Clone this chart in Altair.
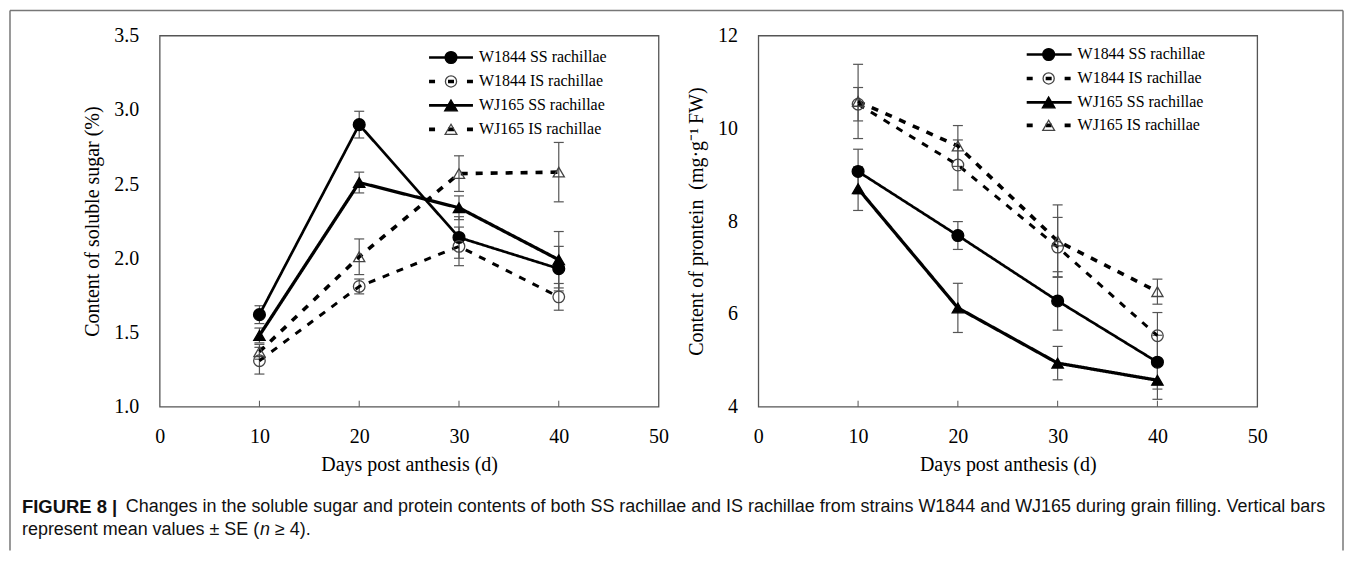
import altair as alt
import pandas as pd

# ---------------- data ----------------
days = [10, 20, 30, 40]
series_names = ["W1844 SS rachillae", "W1844 IS rachillae",
                "WJ165 SS rachillae", "WJ165 IS rachillae"]

sugar_w1844_ss = [1.62, 2.90, 2.14, 1.93]
sugar_w1844_ss_se = [0.06, 0.09, 0.14, 0.15]
sugar_w1844_is = [1.31, 1.81, 2.08, 1.74]
sugar_w1844_is_se = [0.09, 0.05, 0.13, 0.09]
sugar_wj165_ss = [1.48, 2.51, 2.34, 1.99]
sugar_wj165_ss_se = [0.05, 0.07, 0.08, 0.19]
sugar_wj165_is = [1.37, 2.01, 2.57, 2.58]
sugar_wj165_is_se = [0.05, 0.12, 0.12, 0.20]

protein_w1844_ss = [9.07, 7.69, 6.28, 4.96]
protein_w1844_ss_se = [0.48, 0.30, 0.63, 0.58]
protein_w1844_is = [10.52, 9.21, 7.44, 5.53]
protein_w1844_is_se = [0.36, 0.54, 0.64, 0.50]
protein_wj165_ss = [8.70, 6.13, 4.94, 4.57]
protein_wj165_ss_se = [0.47, 0.53, 0.36, 0.41]
protein_wj165_is = [10.58, 9.62, 7.57, 6.48]
protein_wj165_is_se = [0.80, 0.44, 0.78, 0.27]

x_ticks = [0, 10, 20, 30, 40, 50]
x_inner_ticks = [10, 20, 30, 40]
sugar_ticks = [1.0, 1.5, 2.0, 2.5, 3.0, 3.5]
protein_ticks = [4, 6, 8, 10, 12]

x_title = "Days post anthesis (d)"
sugar_title = "Content of soluble sugar (%)"
protein_title = "Content of prontein\u00a0\u00a0(mg\u00b7g\u207b\u00b9\u2009FW)"

caption_bold = "FIGURE 8 |"
caption_line1 = ("Changes in the soluble sugar and protein contents of both SS rachillae and IS "
                 "rachillae from strains W1844 and WJ165 during grain filling. Vertical bars")
caption_line2a = "represent mean values \u00b1 SE ("
caption_line2b = "n"
caption_line2c = "\u2265 4)."

# ---------------- style ----------------
SERIF = "Liberation Serif"
SANS = "Liberation Sans"
W, H = 500, 372
AXIS_GRAY = "#555555"
ERR_GRAY = "#555555"

shape_range = ["circle", "circle", "triangle-up", "triangle-up"]
fill_range = ["black", "transparent", "black", "transparent"]
stroke_range = ["black", "#444444", "black", "#444444"]
size_range = [140, 125, 160, 140]
dash_range = [[1, 0], [7, 8], [1, 0], [7, 8]]
width_range = [2.7, 3.6, 2.7, 3.6]
legend_dash = [None, [6, 13], None, [6, 13]]


def make_df(vals, ses):
    rows = []
    for name, v, s in zip(series_names, vals, ses):
        for d, vv, ss in zip(days, v, s):
            rows.append(dict(day=d, value=vv, lo=vv - ss, hi=vv + ss, series=name))
    return pd.DataFrame(rows)


def sc(rng):
    return alt.Scale(domain=series_names, range=rng)


def panel(df, ydomain, yticks, yfmt, ytitle, ytitle_x, leg_rows, extra=None):
    xs = alt.Scale(domain=[0, 50], nice=False, zero=False)
    xaxis = alt.Axis(values=x_ticks, format="d", title=x_title, ticks=False, domain=False,
                     grid=False, labelFlush=False, labelOverlap=False, labelPadding=30,
                     labelBaseline="middle", labelFontSize=20, labelFont=SERIF,
                     labelColor="black", titleFont=SERIF, titleFontSize=20,
                     titleFontWeight="normal", titleColor="black", titleY=58,
                     titleBaseline="middle")
    ys = alt.Scale(domain=ydomain, nice=False, zero=False)
    yaxis = alt.Axis(values=yticks, format=yfmt, title=ytitle, ticks=False, domain=False,
                     grid=False, labelFlush=False, labelOverlap=False, labelPadding=21,
                     labelFontSize=20, labelFont=SERIF, labelColor="black",
                     titleFont=SERIF, titleFontSize=20, titleFontWeight="normal",
                     titleColor="black", titleX=ytitle_x, titleY=H / 2,
                     titleBaseline="middle")
    X = alt.X("day:Q", scale=xs, axis=xaxis)

    err_rule = alt.Chart(df).mark_rule(color=ERR_GRAY, strokeWidth=1.2).encode(
        x=X, y=alt.Y("lo:Q", scale=ys, axis=yaxis), y2="hi:Q")
    caps = df.melt(id_vars=["day", "series"], value_vars=["lo", "hi"], value_name="cap")
    err_cap = alt.Chart(caps).mark_tick(orient="horizontal", size=10, thickness=1.2,
                                        color=ERR_GRAY, opacity=1).encode(
        x=X, y=alt.Y("cap:Q", scale=ys, axis=yaxis))
    lines = alt.Chart(df).mark_line(color="black").encode(
        x=X, y=alt.Y("value:Q", scale=ys, axis=yaxis),
        strokeDash=alt.StrokeDash("series:N", scale=sc(dash_range), legend=None),
        strokeWidth=alt.StrokeWidth("series:N", scale=sc(width_range), legend=None))
    points = alt.Chart(df).mark_point(opacity=1, strokeWidth=1.3).encode(
        x=X, y=alt.Y("value:Q", scale=ys, axis=yaxis),
        shape=alt.Shape("series:N", scale=sc(shape_range), legend=None),
        fill=alt.Fill("series:N", scale=sc(fill_range), legend=None),
        stroke=alt.Stroke("series:N", scale=sc(stroke_range), legend=None),
        size=alt.Size("series:N", scale=sc(size_range), legend=None))
    tdf = pd.DataFrame({"t": x_inner_ticks})
    inner = alt.Chart(tdf).mark_rule(color=AXIS_GRAY, strokeWidth=1).encode(
        x=alt.X("t:Q", scale=xs, axis=xaxis), y=alt.value(H), y2=alt.value(H - 6))

    layers = [err_rule, err_cap, lines, points, inner]

    lx0, lx1, lxc, tx, rows = leg_rows
    for i, name in enumerate(series_names):
        ldf = pd.DataFrame({"series": [name]})
        yv = alt.value(rows[i])
        rkw = dict(color="black", strokeWidth=width_range[i])
        if legend_dash[i] is not None:
            rkw["strokeDash"] = legend_dash[i]
        layers.append(alt.Chart(ldf).mark_rule(**rkw).encode(
            x=alt.value(lx0), x2=alt.value(lx1), y=yv))
        layers.append(alt.Chart(ldf).mark_point(
            opacity=1, shape=shape_range[i], fill=fill_range[i], stroke=stroke_range[i],
            size=size_range[i], strokeWidth=1.3).encode(x=alt.value(lxc), y=yv))
        layers.append(alt.Chart(ldf).mark_text(
            align="left", baseline="middle", font=SERIF, fontSize=16, color="black").encode(
            x=alt.value(tx), y=yv, text="series:N"))
    if extra:
        layers += extra
    return alt.layer(*layers).properties(width=W, height=H)


# frame and caption (positioned relative to the left panel's plot area)
one = pd.DataFrame({"k": [0]})
FRAME = "#777777"
frame = [
    alt.Chart(one).mark_rule(color=FRAME, strokeWidth=1.5).encode(
        x=alt.value(-150), x2=alt.value(1186), y=alt.value(-25)),
    alt.Chart(one).mark_rule(color=FRAME, strokeWidth=1.5).encode(
        x=alt.value(-150), y=alt.value(-25), y2=alt.value(516)),
    alt.Chart(one).mark_rule(color=FRAME, strokeWidth=1.5).encode(
        x=alt.value(1186), y=alt.value(-25), y2=alt.value(516)),
]
CAP_FS = 18
cap_df = pd.DataFrame({"b": [caption_bold], "l1": [caption_line1], "a": [caption_line2a],
                       "n": [caption_line2b], "c": [caption_line2c]})


def cap_text(field, x, y, **kw):
    return alt.Chart(cap_df).mark_text(align="left", baseline="middle", font=SANS,
                                       color="#111111", **kw).encode(
        x=alt.value(x), y=alt.value(y), text=f"{field}:N")


X0 = -138
w_a = 13.256 * CAP_FS
caption = [
    cap_text("b", X0, 473, fontSize=18.5, fontWeight="bold"),
    cap_text("l1", -34, 473, fontSize=CAP_FS),
    cap_text("a", X0, 496, fontSize=CAP_FS),
    cap_text("n", X0 + w_a, 496, fontSize=CAP_FS, fontStyle="italic"),
    cap_text("c", X0 + w_a + 0.834 * CAP_FS, 496, fontSize=CAP_FS),
]

sugar_df = make_df([sugar_w1844_ss, sugar_w1844_is, sugar_wj165_ss, sugar_wj165_is],
                   [sugar_w1844_ss_se, sugar_w1844_is_se, sugar_wj165_ss_se, sugar_wj165_is_se])
protein_df = make_df([protein_w1844_ss, protein_w1844_is, protein_wj165_ss, protein_wj165_is],
                     [protein_w1844_ss_se, protein_w1844_is_se, protein_wj165_ss_se,
                      protein_wj165_is_se])

left = panel(sugar_df, [1.0, 3.5], sugar_ticks, ".1f", sugar_title, -67,
             (270, 314, 292, 320, [22, 46, 70, 94]), extra=frame + caption)
right = panel(protein_df, [4, 12], protein_ticks, "d", protein_title, -62,
              (269, 314, 291, 320, [19, 43, 67, 90]))

chart = alt.hconcat(left, right, spacing=100, bounds="flush").properties(
    padding=0
).configure_view(stroke=AXIS_GRAY, strokeWidth=1.3)

chart.save("out.html", embed_options={"renderer": "svg", "actions": False})
